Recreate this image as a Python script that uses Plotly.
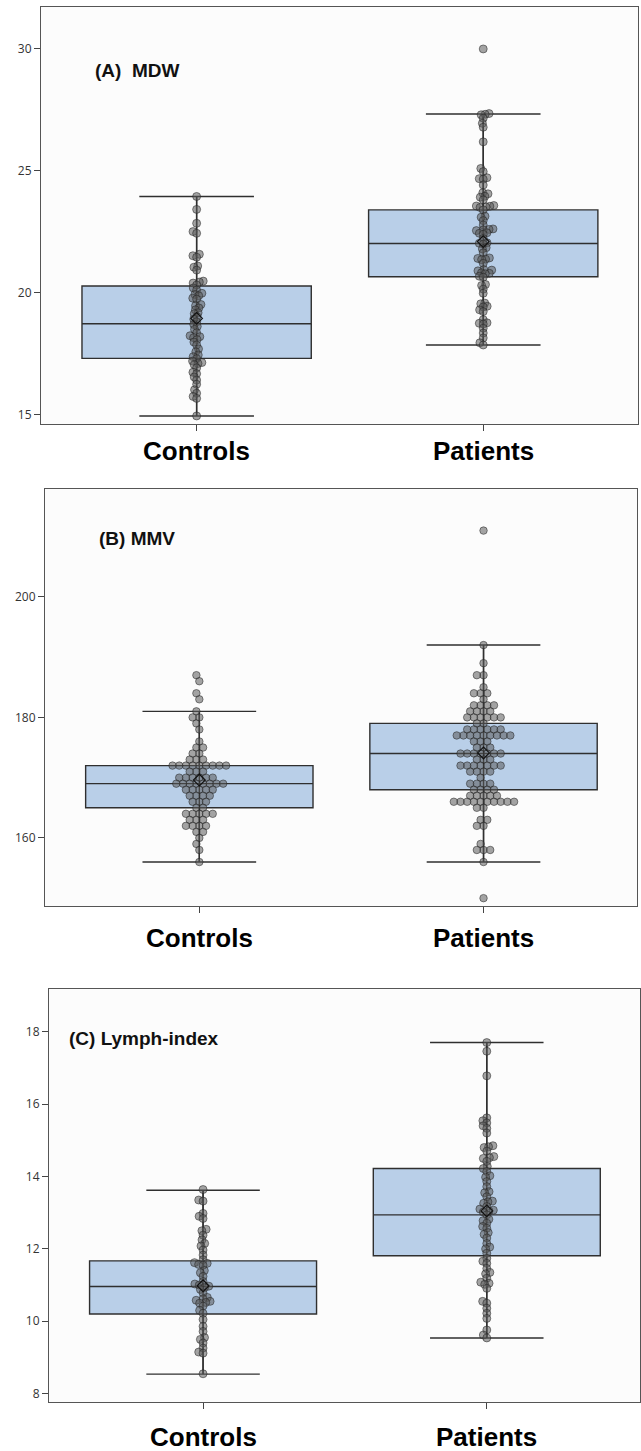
import numpy as np
import plotly.graph_objects as go

W, H = 641, 1451

# ---------------- data ----------------
groups = ["Controls", "Patients"]
panel_titles = ["(A)  MDW", "(B) MMV", "(C) Lymph-index"]

mdw_controls = [23.95, 23.42, 22.85, 22.51, 22.44, 21.58, 21.52, 21.46, 21.10, 21.05,
                20.93, 20.48, 20.44, 20.40, 20.32, 20.20, 20.11, 19.98, 19.93, 19.88,
                19.78, 19.74, 19.52, 19.47, 19.38, 19.30, 19.18, 19.14, 19.02, 18.92,
                18.81, 18.70, 18.62, 18.50, 18.36, 18.24, 18.20, 18.16, 18.08, 17.98,
                17.86, 17.70, 17.58, 17.45, 17.38, 17.30, 17.20, 17.14, 17.10, 17.05,
                16.92, 16.74, 16.68, 16.55, 16.42, 16.25, 16.02, 15.88, 15.75, 15.67, 14.95]
mdw_patients = [30.0, 27.35, 27.32, 27.30, 27.16, 26.95, 26.79, 26.19, 25.10, 24.97,
                24.72, 24.68, 24.66, 24.42, 24.10, 24.06, 23.96, 23.92, 23.81, 23.58,
                23.56, 23.55, 23.52, 23.50, 23.40, 23.14, 23.10, 22.96, 22.78, 22.62,
                22.60, 22.58, 22.55, 22.46, 22.44, 22.40, 22.23, 22.05, 22.03, 22.00,
                21.85, 21.80, 21.64, 21.43, 21.41, 21.38, 21.36, 21.21, 20.95, 20.93,
                20.90, 20.82, 20.80, 20.78, 20.68, 20.64, 20.34, 20.30, 20.15, 19.98,
                19.58, 19.55, 19.45, 19.42, 19.30, 19.23, 18.90, 18.77, 18.75, 18.72,
                18.55, 18.35, 18.15, 17.95, 17.86]

mmv_controls = [187, 186, 184, 183, 181, 180, 180, 179, 178, 176, 175, 175, 174, 174,
                173, 173, 173, 172, 172, 172, 172, 172, 172, 172, 172, 172, 171, 171, 171,
                170, 170, 170, 170, 170, 170, 169, 169, 169, 169, 169, 169, 169, 169,
                168, 168, 168, 168, 168, 167, 167, 167, 167, 166, 166, 166, 165, 165,
                164, 164, 164, 164, 164, 163, 163, 163, 162, 162, 162, 162, 161, 161,
                160, 159, 158, 156]
mmv_patients = [211, 192, 189, 187, 187, 185, 184, 184, 184, 183, 182, 182, 182, 182,
                181, 181, 181, 181, 180, 180, 180, 180, 180, 180, 179, 179,
                178, 178, 178, 178, 178, 178, 177, 177, 177, 177, 177, 177, 177, 177, 177,
                176, 176, 176, 175, 175, 175, 174, 174, 174, 174, 174, 174, 174,
                173, 173, 173, 172, 172, 172, 172, 172, 172, 172, 171, 171, 171, 171,
                170, 169, 169, 169, 169, 168, 168, 168, 168, 167, 167, 167, 167, 167,
                166, 166, 166, 166, 166, 166, 166, 166, 166, 166, 165, 165, 163, 163,
                162, 162, 159, 158, 158, 158, 156, 150]

lymph_controls = [13.64, 13.35, 13.32, 12.98, 12.90, 12.84, 12.54, 12.50, 12.38, 12.25,
                  12.15, 12.08, 11.97, 11.83, 11.70, 11.62, 11.60, 11.57, 11.55, 11.40,
                  11.34, 11.24, 11.10, 11.03, 11.00, 10.97, 10.93, 10.88, 10.78, 10.66,
                  10.62, 10.58, 10.55, 10.52, 10.50, 10.42, 10.30, 10.22, 10.05, 9.86,
                  9.72, 9.55, 9.50, 9.40, 9.26, 9.15, 9.12, 8.55]
lymph_patients = [17.70, 17.46, 16.78, 15.62, 15.54, 15.48, 15.40, 15.33, 15.20, 14.85,
                  14.82, 14.80, 14.70, 14.55, 14.52, 14.50, 14.42, 14.28, 14.22, 14.14,
                  14.02, 13.98, 13.86, 13.72, 13.58, 13.55, 13.44, 13.32, 13.30, 13.26,
                  13.17, 13.10, 13.07, 13.05, 13.02, 12.94, 12.82, 12.78, 12.71, 12.62,
                  12.57, 12.45, 12.40, 12.30, 12.15, 12.05, 12.00, 11.88, 11.74, 11.66,
                  11.60, 11.46, 11.35, 11.31, 11.19, 11.08, 11.05, 11.02, 10.91, 10.55,
                  10.50, 10.36, 10.22, 10.08, 9.76, 9.62, 9.54]

# box statistics (Controls, Patients)
mdw_q1 = [17.31, 20.66]; mdw_med = [18.73, 22.02]; mdw_q3 = [20.28, 23.40]
mdw_lo = [14.95, 17.86]; mdw_hi = [23.95, 27.33]; mdw_mean = [18.95, 22.10]
mmv_q1 = [165, 168]; mmv_med = [169, 174]; mmv_q3 = [172, 179]
mmv_lo = [156, 156]; mmv_hi = [181, 192]; mmv_mean = [169.6, 174.1]
lym_q1 = [10.20, 11.81]; lym_med = [10.96, 12.94]; lym_q3 = [11.67, 14.22]
lym_lo = [8.54, 9.54]; lym_hi = [13.62, 17.70]; lym_mean = [10.98, 13.05]

mdw_ticks = [15, 20, 25, 30]
mmv_ticks = [160, 180, 200]
lym_ticks = [8, 10, 12, 14, 16, 18]

# ---------------- layout geometry (pixels) ----------------
panels = [
    dict(pts=[mdw_controls, mdw_patients], q1=mdw_q1, med=mdw_med, q3=mdw_q3, lo=mdw_lo,
         hi=mdw_hi, mean=mdw_mean, ticks=mdw_ticks, yr=[14.62, 31.72],
         px=(41, 638), py=(7, 424), d=4.0, msize=8, title_xy=(93, 70), lab_y=451),
    dict(pts=[mmv_controls, mmv_patients], q1=mmv_q1, med=mmv_med, q3=mmv_q3, lo=mmv_lo,
         hi=mmv_hi, mean=mmv_mean, ticks=mmv_ticks, yr=[148.7, 217.9],
         px=(45, 637), py=(489, 906), d=6.7, msize=7.5, title_xy=(97, 538), lab_y=938),
    dict(pts=[lymph_controls, lymph_patients], q1=lym_q1, med=lym_med, q3=lym_q3, lo=lym_lo,
         hi=lym_hi, mean=lym_mean, ticks=lym_ticks, yr=[7.77, 19.18],
         px=(49, 640), py=(989, 1402), d=4.5, msize=8, title_xy=(67, 1038), lab_y=1437),
]
XR = [-0.543, 1.54]

BOX_FILL = "#b9cfe8"
LINE = "#2f2f2f"


def swarm(values, ppu, d):
    ys = np.asarray(values, float) * ppu
    order = np.argsort(ys, kind="stable")
    px_l, py_l = [], []
    xs = np.zeros(len(ys))
    for i in order:
        y = ys[i]
        cands = [0.0]
        intervals = []
        for a, b in zip(px_l, py_l):
            dy = abs(b - y)
            if dy < d:
                dx = np.sqrt(d * d - dy * dy)
                intervals.append((a - dx, a + dx))
                cands += [a - dx, a + dx]
        cands.sort(key=lambda c: (round(abs(c), 6), c))
        for c in cands:
            if all(not (lo + 1e-6 < c < hi - 1e-6) for lo, hi in intervals):
                xs[i] = c
                break
        px_l.append(xs[i]); py_l.append(y)
    return xs


fig = go.Figure()
layout = dict(width=W, height=H, margin=dict(l=0, r=0, t=0, b=0),
              paper_bgcolor="white", plot_bgcolor="#fcfcfc", showlegend=False,
              boxmode="overlay", annotations=[])

for k, p in enumerate(panels):
    sx = "" if k == 0 else str(k + 1)
    xa, ya = "x" + sx, "y" + sx
    x0, x1 = p["px"]; y0, y1 = p["py"]
    ppu_x = (x1 - x0) / (XR[1] - XR[0])
    ppu_y = (y1 - y0) / (p["yr"][1] - p["yr"][0])

    for g in range(2):
        fig.add_trace(go.Box(
            x=[g], q1=[p["q1"][g]], median=[p["med"][g]], q3=[p["q3"][g]],
            lowerfence=[p["lo"][g]], upperfence=[p["hi"][g]],
            width=0.8, whiskerwidth=0.5, fillcolor=BOX_FILL,
            line=dict(color=LINE, width=1.4), boxpoints=False,
            hoverinfo="skip", xaxis=xa, yaxis=ya))
        fig.add_trace(go.Scatter(
            x=[g, g], y=[p["lo"][g], p["hi"][g]], mode="lines",
            line=dict(color=LINE, width=1.4), hoverinfo="skip", xaxis=xa, yaxis=ya))
        offs = swarm(p["pts"][g], ppu_y, p["d"]) / ppu_x
        fig.add_trace(go.Scatter(
            x=[g + o for o in offs], y=p["pts"][g], mode="markers",
            marker=dict(size=p["msize"], color="rgba(90,90,90,0.55)",
                        line=dict(color="rgba(30,30,30,0.5)", width=1)),
            xaxis=xa, yaxis=ya))
        fig.add_trace(go.Scatter(
            x=[g], y=[p["mean"][g]], mode="markers",
            marker=dict(symbol="diamond-open", size=9, color="#111",
                        line=dict(width=1.2)),
            xaxis=xa, yaxis=ya))

    dom_x = [x0 / W, x1 / W]
    dom_y = [1 - y1 / H, 1 - y0 / H]
    layout["xaxis" + sx] = dict(domain=dom_x, range=XR, anchor=ya, tickvals=[0, 1],
                                showticklabels=False, ticks="outside", ticklen=6,
                                tickcolor="#444", showline=True, linecolor="#555",
                                linewidth=1, mirror=True, showgrid=False, zeroline=False)
    layout["yaxis" + sx] = dict(domain=dom_y, range=p["yr"], anchor=xa,
                                tickvals=p["ticks"], ticks="outside", ticklen=6,
                                tickcolor="#444", showline=True, linecolor="#555",
                                linewidth=1, mirror=True, showgrid=False, zeroline=False,
                                tickfont=dict(family="Open Sans", size=12, color="#333"))
    tx, ty = p["title_xy"]
    layout["annotations"].append(dict(
        text="<b>%s</b>" % panel_titles[k], xref="paper", yref="paper",
        x=tx / W, y=1 - ty / H, xanchor="left", yanchor="middle", showarrow=False,
        font=dict(family="Liberation Sans", size=19, color="#111")))
    for g in range(2):
        layout["annotations"].append(dict(
            text="<b>%s</b>" % groups[g], xref=xa, yref="paper",
            x=g, y=1 - p["lab_y"] / H, xanchor="center", yanchor="middle",
            showarrow=False, font=dict(family="Liberation Sans", size=26, color="#000")))

fig.update_layout(**layout)
fig.write_html("out.html", config={"displayModeBar": False},
               post_script="document.body.style.margin='0';"
                           "document.body.style.overflow='hidden';")
